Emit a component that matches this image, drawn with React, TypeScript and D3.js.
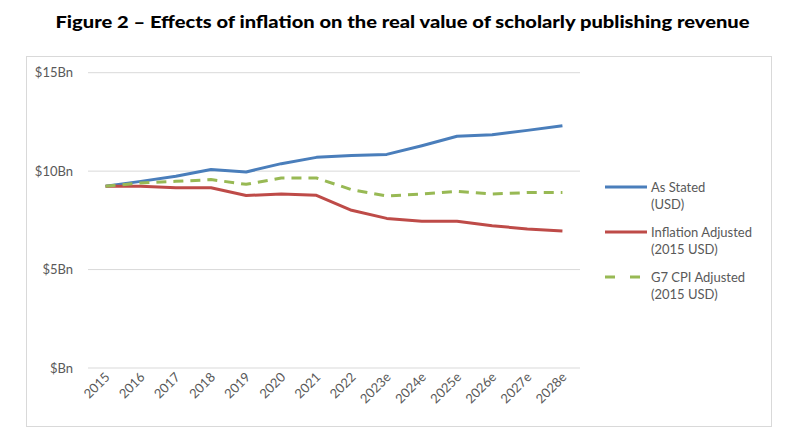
import React, { useEffect } from "react";
import * as d3 from "d3";

// Figure 2 - scholarly publishing revenue, nominal vs inflation adjusted

const years = [
  "2015", "2016", "2017", "2018", "2019", "2020", "2021",
  "2022", "2023e", "2024e", "2025e", "2026e", "2027e", "2028e",
];

const asStated = [9.23, 9.48, 9.74, 10.08, 9.96, 10.38, 10.7, 10.79, 10.85, 11.29, 11.77, 11.85, 12.07, 12.31];
const inflationAdjusted = [9.23, 9.23, 9.16, 9.16, 8.76, 8.84, 8.77, 8.01, 7.6, 7.45, 7.45, 7.23, 7.06, 6.96];
const g7Adjusted = [9.23, 9.4, 9.48, 9.57, 9.33, 9.65, 9.65, 9.06, 8.74, 8.84, 8.97, 8.84, 8.91, 8.91];

const yTicks = [0, 5, 10, 15];

type Series = {
  name: string[];
  values: number[];
  color: string;
  dash?: string;
};

const series: Series[] = [
  { name: ["As Stated", "(USD)"], values: asStated, color: "#4a7ebb" },
  { name: ["Inflation Adjusted", "(2015 USD)"], values: inflationAdjusted, color: "#be4b48" },
  { name: ["G7 CPI Adjusted", "(2015 USD)"], values: g7Adjusted, color: "#98b954", dash: "10,7" },
];

const W = 805;
const H = 444;
const plot = { left: 88, right: 580, top: 72.7, bottom: 368 };
const font = "Lato, 'Open Sans', sans-serif";

const App = () => {
  useEffect(() => {
    document.body.style.margin = "0";
  }, []);

  const x = d3
    .scaleBand<string>()
    .domain(years)
    .range([plot.left, plot.right]);
  const y = d3.scaleLinear().domain([0, 15]).range([plot.bottom, plot.top]);

  const line = d3
    .line<number>()
    .x((_, i) => (x(years[i]) as number) + x.bandwidth() / 2)
    .y((d) => y(d));

  return (
    <svg width={W} height={H} style={{ display: "block" }} fontFamily={font}>
      <rect width={W} height={H} fill="#fff" />
      <text
        x={W / 2}
        y={28}
        textAnchor="middle"
        fontSize={17.5}
        fontWeight={900}
        fill="#000"
        textLength={694}
        lengthAdjust="spacingAndGlyphs"
      >
        Figure 2 – Effects of inflation on the real value of scholarly publishing revenue
      </text>

      <rect x={26.5} y={56.5} width={745} height={370} fill="none" stroke="#d9d9d9" strokeWidth={1} />

      {yTicks.map((t) => (
        <g key={t}>
          <line x1={plot.left} x2={plot.right} y1={y(t)} y2={y(t)} stroke="#d9d9d9" strokeWidth={1} />
          <text x={73} y={y(t)} dy="0.35em" textAnchor="end" fontSize={13} fill="#595959">
            {`$${t === 0 ? "" : t}Bn`}
          </text>
        </g>
      ))}

      {years.map((yr) => {
        const cx = (x(yr) as number) + x.bandwidth() / 2;
        return (
          <text
            key={yr}
            transform={`translate(${cx + 5},${plot.bottom + 10}) rotate(-45)`}
            textAnchor="end"
            fontSize={13}
            fill="#595959"
          >
            {yr}
          </text>
        );
      })}

      {series.map((s) => (
        <path
          key={s.name[0]}
          d={line(s.values) as string}
          fill="none"
          stroke={s.color}
          strokeWidth={3}
          strokeDasharray={s.dash}
          strokeLinejoin="round"
        />
      ))}

      {series.map((s, i) => {
        const ly = 187 + i * 45;
        return (
          <g key={`leg-${i}`}>
            <line x1={605} x2={647} y1={ly} y2={ly} stroke={s.color} strokeWidth={3} strokeDasharray={s.dash ? "10,15" : undefined} />
            {s.name.map((n, j) => (
              <text key={n} x={651} y={ly + j * 17.5} dy="0.35em" fontSize={13} fill="#595959">
                {n}
              </text>
            ))}
          </g>
        );
      })}
    </svg>
  );
};

export default App;
